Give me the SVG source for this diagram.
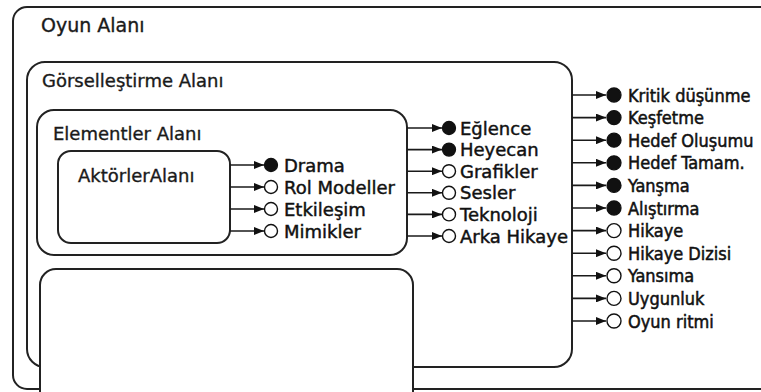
<svg xmlns="http://www.w3.org/2000/svg" width="761" height="392" viewBox="0 0 761 392">
<style>
.box{fill:none;stroke:#222;stroke-width:2}
.title{font-family:"DejaVu Sans",sans-serif;font-size:18px;fill:#1a1a1a;stroke:#1a1a1a;stroke-width:0.35}
.item{font-family:"DejaVu Sans",sans-serif;font-size:18px;fill:#111;stroke:#111;stroke-width:0.45}
.small{font-family:"DejaVu Sans Condensed","DejaVu Sans",sans-serif;font-size:18px;fill:#111;stroke:#111;stroke-width:0.5}
.full{fill:#111;stroke:#111;stroke-width:1.3}
.open{fill:#fff;stroke:#111;stroke-width:1.4}
.conn line{stroke:#1a1a1a;stroke-width:1.6;marker-end:url(#arr)}
</style>
<defs>
<marker id="arr" markerUnits="userSpaceOnUse" markerWidth="10" markerHeight="8" refX="10" refY="4" orient="auto">
<path d="M0,0 L10,4 L0,8 z" fill="#111"/>
</marker>
</defs>
<rect width="761" height="392" fill="#fff"/>
<g id="oyun-alani">
<rect class="box" x="13" y="7" width="780" height="382" rx="14"/>
<text class="title" x="41" y="32" style="font-size:19px">Oyun Alanı</text>
</g>
<g id="gorsellestirme-alani">
<rect class="box" x="27" y="62" width="545" height="305" rx="18"/>
<text class="title" x="42" y="87">Görselleştirme Alanı</text>
</g>
<g id="elementler-alani">
<rect class="box" x="37" y="110" width="370" height="145" rx="17"/>
<text class="title" x="53" y="140">Elementler Alanı</text>
</g>
<g id="aktorler-alani">
<rect class="box" x="58" y="151" width="172" height="92" rx="13"/>
<text class="title" x="78" y="182">AktörlerAlanı</text>
</g>
<g id="bos-alan">
<rect x="40" y="269" width="373" height="140" rx="16" fill="#fff" stroke="#222" stroke-width="2"/>
</g>
<g id="connectors" class="conn">
<line x1="230" y1="165" x2="264" y2="165"/>
<line x1="230" y1="187" x2="264" y2="187"/>
<line x1="230" y1="209" x2="264" y2="209"/>
<line x1="230" y1="231" x2="264" y2="231"/>
<line x1="407" y1="128" x2="442" y2="128"/>
<line x1="407" y1="149.6" x2="442" y2="149.6"/>
<line x1="407" y1="171.2" x2="442" y2="171.2"/>
<line x1="407" y1="192.8" x2="442" y2="192.8"/>
<line x1="407" y1="214.4" x2="442" y2="214.4"/>
<line x1="407" y1="236" x2="442" y2="236"/>
<line x1="572" y1="95" x2="606" y2="95"/>
<line x1="572" y1="117.6" x2="606" y2="117.6"/>
<line x1="572" y1="140.2" x2="606" y2="140.2"/>
<line x1="572" y1="162.8" x2="606" y2="162.8"/>
<line x1="572" y1="185.4" x2="606" y2="185.4"/>
<line x1="572" y1="208" x2="606" y2="208"/>
<line x1="572" y1="230.6" x2="606" y2="230.6"/>
<line x1="572" y1="253.2" x2="606" y2="253.2"/>
<line x1="572" y1="275.8" x2="606" y2="275.8"/>
<line x1="572" y1="298.4" x2="606" y2="298.4"/>
<line x1="572" y1="321" x2="606" y2="321"/>
</g>
<g id="drama"><circle class="full" cx="271" cy="165" r="6.5"/><text class="item" x="284" y="171.5">Drama</text></g>
<g id="rol-modeller"><circle class="open" cx="271" cy="187" r="6.5"/><text class="item" x="284" y="193.5">Rol Modeller</text></g>
<g id="etkilesim"><circle class="open" cx="271" cy="209" r="6.5"/><text class="item" x="284" y="215.5">Etkileşim</text></g>
<g id="mimikler"><circle class="open" cx="271" cy="231" r="6.5"/><text class="item" x="284" y="237.5">Mimikler</text></g>
<g id="eglence"><circle class="full" cx="449" cy="128" r="6.5"/><text class="item" x="460" y="134.5">Eğlence</text></g>
<g id="heyecan"><circle class="full" cx="449" cy="149.6" r="6.5"/><text class="item" x="460" y="156.1">Heyecan</text></g>
<g id="grafikler"><circle class="open" cx="449" cy="171.2" r="6.5"/><text class="item" x="460" y="177.7">Grafikler</text></g>
<g id="sesler"><circle class="open" cx="449" cy="192.8" r="6.5"/><text class="item" x="460" y="199.3">Sesler</text></g>
<g id="teknoloji"><circle class="open" cx="449" cy="214.4" r="6.5"/><text class="item" x="460" y="220.9">Teknoloji</text></g>
<g id="arka-hikaye"><circle class="open" cx="449" cy="236" r="6.5"/><text class="item" x="460" y="242.5">Arka Hikaye</text></g>
<g id="kritik-dusunme"><circle class="full" cx="614" cy="95" r="7"/><text class="small" x="628" y="101.5">Kritik düşünme</text></g>
<g id="kesfetme"><circle class="full" cx="614" cy="117.6" r="7"/><text class="small" x="628" y="124.1">Keşfetme</text></g>
<g id="hedef-olusumu"><circle class="full" cx="614" cy="140.2" r="7"/><text class="small" x="628" y="146.7">Hedef Oluşumu</text></g>
<g id="hedef-tamam"><circle class="full" cx="614" cy="162.8" r="7"/><text class="small" x="628" y="169.3">Hedef Tamam.</text></g>
<g id="yansma"><circle class="full" cx="614" cy="185.4" r="7"/><text class="small" x="628" y="191.9">Yanşma</text></g>
<g id="alistirma"><circle class="full" cx="614" cy="208" r="7"/><text class="small" x="628" y="214.5">Alıştırma</text></g>
<g id="hikaye"><circle class="open" cx="614" cy="230.6" r="7"/><text class="small" x="628" y="237.1">Hikaye</text></g>
<g id="hikaye-dizisi"><circle class="open" cx="614" cy="253.2" r="7"/><text class="small" x="628" y="259.7">Hikaye Dizisi</text></g>
<g id="yansima"><circle class="open" cx="614" cy="275.8" r="7"/><text class="small" x="628" y="282.3">Yansıma</text></g>
<g id="uygunluk"><circle class="open" cx="614" cy="298.4" r="7"/><text class="small" x="628" y="304.9">Uygunluk</text></g>
<g id="oyun-ritmi"><circle class="open" cx="614" cy="321" r="7"/><text class="small" x="628" y="327.5">Oyun ritmi</text></g>
</svg>
